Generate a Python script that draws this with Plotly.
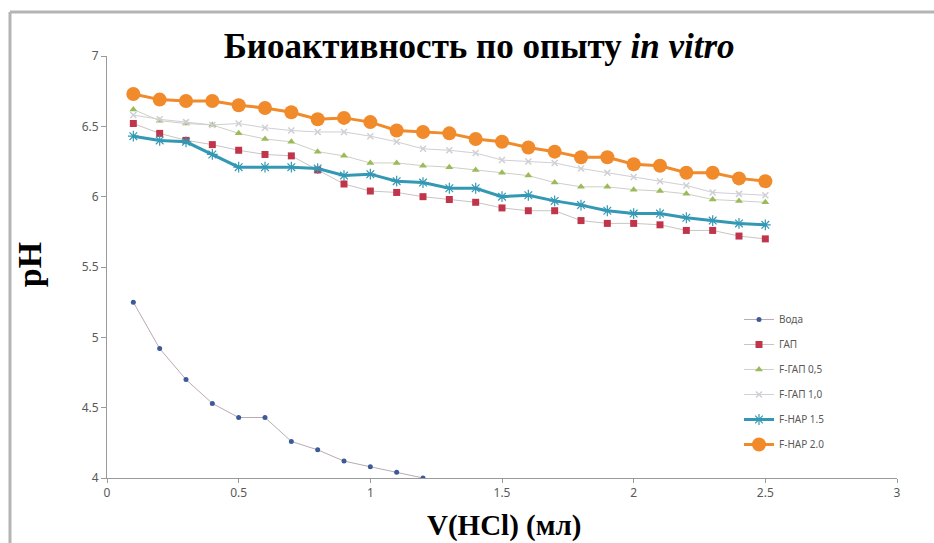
import plotly.graph_objects as go

x_vals = [0.1, 0.2, 0.3, 0.4, 0.5, 0.6, 0.7, 0.8, 0.9, 1.0, 1.1, 1.2, 1.3,
          1.4, 1.5, 1.6, 1.7, 1.8, 1.9, 2.0, 2.1, 2.2, 2.3, 2.4, 2.5]

voda_x = [0.1, 0.2, 0.3, 0.4, 0.5, 0.6, 0.7, 0.8, 0.9, 1.0, 1.1, 1.2, 1.3, 1.4]
voda = [5.25, 4.92, 4.70, 4.53, 4.43, 4.43, 4.26, 4.20, 4.12, 4.08, 4.04, 4.00, 3.96, 3.93]

gap = [6.52, 6.45, 6.40, 6.37, 6.33, 6.30, 6.29, 6.19, 6.09, 6.04, 6.03, 6.00, 5.98,
       5.96, 5.92, 5.90, 5.90, 5.83, 5.81, 5.81, 5.80, 5.76, 5.76, 5.72, 5.70]
f_gap_05 = [6.62, 6.54, 6.52, 6.51, 6.45, 6.41, 6.39, 6.32, 6.29, 6.24, 6.24, 6.22, 6.21,
            6.19, 6.17, 6.15, 6.10, 6.07, 6.07, 6.05, 6.04, 6.02, 5.98, 5.97, 5.96]
f_gap_10 = [6.58, 6.55, 6.53, 6.51, 6.52, 6.49, 6.47, 6.46, 6.46, 6.43, 6.39, 6.34, 6.33,
            6.31, 6.26, 6.25, 6.24, 6.20, 6.17, 6.14, 6.11, 6.08, 6.03, 6.02, 6.01]
f_hap_15 = [6.43, 6.40, 6.39, 6.30, 6.21, 6.21, 6.21, 6.20, 6.15, 6.16, 6.11, 6.10, 6.06,
            6.06, 6.00, 6.01, 5.97, 5.94, 5.90, 5.88, 5.88, 5.85, 5.83, 5.81, 5.80]
f_hap_20 = [6.73, 6.69, 6.68, 6.68, 6.65, 6.63, 6.60, 6.55, 6.56, 6.53, 6.47, 6.46, 6.45,
            6.41, 6.39, 6.35, 6.32, 6.28, 6.28, 6.23, 6.22, 6.17, 6.17, 6.13, 6.11]

names = ["Вода", "ГАП", "F-ГАП 0,5", "F-ГАП 1,0", "F-HAP 1.5", "F-HAP 2.0"]
x_ticks = [0, 0.5, 1, 1.5, 2, 2.5, 3]
y_ticks = [4, 4.5, 5, 5.5, 6, 6.5, 7]

fig = go.Figure()

fig.add_trace(go.Scatter(x=voda_x, y=voda, name=names[0], mode="lines+markers",
                         line=dict(color="#b9aab4", width=1),
                         marker=dict(symbol="circle", size=5, color="#3d5a98"),
                         legendgroup="g1"))
fig.add_trace(go.Scatter(x=x_vals, y=gap, name=names[1], mode="lines+markers",
                         line=dict(color="#c9c4c4", width=1),
                         marker=dict(symbol="square", size=7, color="#c0354a"),
                         legendgroup="g2"))
fig.add_trace(go.Scatter(x=x_vals, y=f_gap_05, name=names[2], mode="lines+markers",
                         line=dict(color="#cdd0c6", width=1),
                         marker=dict(symbol="triangle-up", size=7, color="#9bbb59"),
                         legendgroup="g3"))
fig.add_trace(go.Scatter(x=x_vals, y=f_gap_10, name=names[3], mode="lines+markers",
                         line=dict(color="#cfcfd6", width=1),
                         marker=dict(symbol="x-thin-open", size=6,
                                     line=dict(color="#a898cc", width=1.5)),
                         legendgroup="g4"))
fig.add_trace(go.Scatter(x=x_vals, y=f_hap_15, name=names[4], mode="lines+markers",
                         line=dict(color="#3398b4", width=3),
                         marker=dict(symbol="asterisk-open", size=9,
                                     line=dict(color="#8ecbe6", width=1.2)),
                         legendgroup="g5"))
fig.add_trace(go.Scatter(x=x_vals, y=f_hap_20, name=names[5], mode="lines+markers",
                         line=dict(color="#f08a2a", width=3),
                         marker=dict(symbol="circle", size=14, color="#f08a2a"),
                         legendgroup="g6"))

tick_font = dict(family="Noto Sans", size=12, color="#595959")

fig.update_layout(
    width=934, height=543,
    margin=dict(l=107, r=37, t=56, b=65),
    paper_bgcolor="white", plot_bgcolor="white",
    title=dict(text="<b>Биоактивность по опыту <i>in vitro</i></b>",
               font=dict(family="Liberation Serif", size=35, color="black"),
               x=0.513, xanchor="center", y=1 - 46 / 543, yanchor="middle"),
    xaxis=dict(range=[0, 3], tickvals=x_ticks, ticktext=[str(v) for v in x_ticks],
               showgrid=False, zeroline=False, showline=True, linecolor="#9a9a9a",
               linewidth=1, ticks="outside", ticklen=4, tickcolor="#9a9a9a",
               tickfont=tick_font),
    yaxis=dict(range=[4, 7], tickvals=y_ticks, ticktext=[str(v) for v in y_ticks],
               showgrid=False, zeroline=False, showline=True, linecolor="#9a9a9a",
               linewidth=1, ticks="outside", ticklen=5, tickcolor="#9a9a9a",
               tickfont=tick_font),
    legend=dict(x=0.80, y=0.41, xanchor="left", yanchor="top",
                font=dict(family="Noto Sans", size=10, color="#595959"),
                bgcolor="rgba(0,0,0,0)", traceorder="grouped", tracegroupgap=6),
    showlegend=True,
)

fig.add_annotation(text="<b>pH</b>", xref="paper", yref="paper",
                   x=-0.097, y=0.505, xanchor="center", yanchor="middle",
                   showarrow=False, textangle=-90,
                   font=dict(family="Liberation Serif", size=34, color="black"))
fig.add_annotation(text="<b>V(HCl) (мл)</b>", xref="paper", yref="paper",
                   x=0.503, y=-0.113, xanchor="center", yanchor="middle",
                   showarrow=False,
                   font=dict(family="Liberation Serif", size=29, color="black"))

fig.add_shape(type="line", xref="paper", yref="paper",
              x0=-0.1228, x1=-0.1228, y0=-0.2, y1=1.104,
              line=dict(color="#b4b4b4", width=3))
fig.add_shape(type="line", xref="paper", yref="paper",
              x0=-0.1228, x1=1.1, y0=1.104, y1=1.104,
              line=dict(color="#b4b4b4", width=3))

fig.write_html("out.html")
